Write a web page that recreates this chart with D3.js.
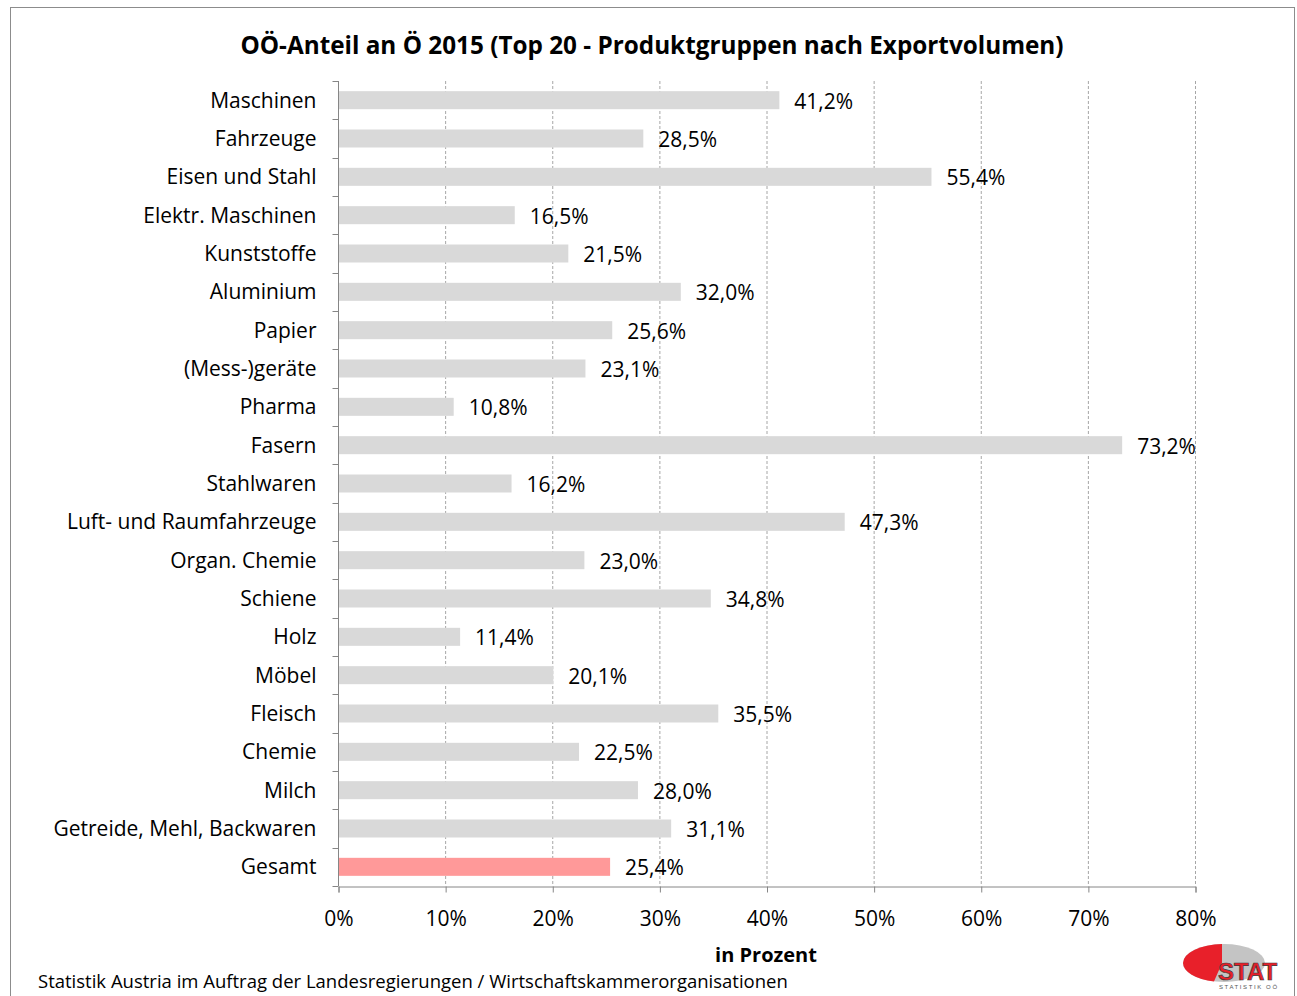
<!DOCTYPE html>
<html><head><meta charset="utf-8">
<script src="https://cdn.jsdelivr.net/npm/d3@7"></script>
<style>body{margin:0;background:#fff}svg{display:block}</style>
</head><body>
<script>
const categories = ["Maschinen","Fahrzeuge","Eisen und Stahl","Elektr. Maschinen","Kunststoffe","Aluminium","Papier","(Mess-)geräte","Pharma","Fasern","Stahlwaren","Luft- und Raumfahrzeuge","Organ. Chemie","Schiene","Holz","Möbel","Fleisch","Chemie","Milch","Getreide, Mehl, Backwaren","Gesamt"];
const values = [41.2,28.5,55.4,16.5,21.5,32.0,25.6,23.1,10.8,73.2,16.2,47.3,23.0,34.8,11.4,20.1,35.5,22.5,28.0,31.1,25.4];
const xTicks = [0,10,20,30,40,50,60,70,80];
const title = "OÖ-Anteil an Ö 2015 (Top 20 - Produktgruppen nach Exportvolumen)";
const xTitle = "in Prozent";
const source = "Statistik Austria im Auftrag der Landesregierungen / Wirtschaftskammerorganisationen";

const W = 1297, H = 996;
const font = "'Open Sans', sans-serif";
const svg = d3.select("body").append("svg").attr("width", W).attr("height", H);

svg.append("rect").attr("x",10.5).attr("y",7.5).attr("width",1284).attr("height",995)
  .attr("fill","#fff").attr("stroke","#8c8c8c").attr("stroke-width",1);

const x = d3.scaleLinear().domain([0,80]).range([338,1195]);
const y = d3.scaleBand().domain(categories).range([81,886]).paddingInner(0.53).paddingOuter(0.265);

// gridlines
svg.append("g").selectAll("line").data(xTicks.filter(d=>d>0)).join("line")
  .attr("x1",d=>x(d)+0.5).attr("x2",d=>x(d)+0.5).attr("y1",81).attr("y2",886)
  .attr("stroke","#a6a6a6").attr("stroke-dasharray","3,2").attr("stroke-width",1);

// bars
svg.append("g").selectAll("rect").data(categories).join("rect")
  .attr("x",x(0)+1).attr("y",d=>y(d))
  .attr("width",(d,i)=>x(values[i])-x(0)-1).attr("height",y.bandwidth())
  .attr("fill",d=>d==="Gesamt"?"#ff9999":"#d9d9d9");

// value labels
svg.append("g").selectAll("text").data(categories).join("text")
  .attr("x",(d,i)=>x(values[i])+15).attr("y",d=>y(d)+y.bandwidth()/2+1)
  .attr("dy","0.36em").attr("font-family",font).attr("font-size",21).attr("fill","#000")
  .text((d,i)=>values[i].toFixed(1).replace(".",",")+"%");

// y axis
const yAxis = svg.append("g").attr("transform","translate(338.5,0)");
yAxis.append("line").attr("x1",0).attr("x2",0).attr("y1",81).attr("y2",886).attr("stroke","#868686");
const bounds = d3.range(categories.length+1).map(i=>81+i*(886-81)/categories.length);
yAxis.selectAll("line.t").data(bounds).join("line").attr("class","t")
  .attr("x1",-6).attr("x2",0).attr("y1",d=>Math.round(d)+0.5).attr("y2",d=>Math.round(d)+0.5).attr("stroke","#868686");
yAxis.selectAll("text").data(categories).join("text")
  .attr("x",-22).attr("y",d=>y(d)+y.bandwidth()/2).attr("dy","0.36em")
  .attr("text-anchor","end").attr("font-family",font).attr("font-size",21).attr("fill","#000").text(d=>d);

// x axis
const xAxis = d3.axisBottom(x).tickValues(xTicks).tickSize(6).tickPadding(19).tickFormat(d=>d+"%");
const gx = svg.append("g").attr("transform","translate(0.5,886.5)").call(xAxis);
gx.select(".domain").attr("stroke","#868686");
gx.selectAll(".tick line").attr("stroke","#868686");
gx.selectAll("text").attr("font-family",font).attr("font-size",21).attr("fill","#000");

// titles
svg.append("text").attr("x",652).attr("y",54).attr("text-anchor","middle")
  .attr("font-family",font).attr("font-weight","bold").attr("font-size",24.3).text(title);
svg.append("text").attr("x",766).attr("y",962).attr("text-anchor","middle")
  .attr("font-family",font).attr("font-weight","bold").attr("font-size",20).text(xTitle);
svg.append("text").attr("x",38).attr("y",988)
  .attr("font-family",font).attr("font-size",18.5).text(source);

// logo
const lg = svg.append("g").attr("transform","translate(1224,963)");
lg.append("ellipse").attr("rx",41).attr("ry",19).attr("fill","#c4c4c4");
lg.append("path").attr("d","M-2,-19 A41,19 0 0,0 -41,0 A41,19 0 0,0 -10,18.4 L-2,0 Z").attr("fill","#e8202a");
lg.append("text").attr("x",-6).attr("y",17).attr("font-family","'Liberation Sans',sans-serif")
  .attr("font-weight","bold").attr("font-size",24).attr("fill","#e8202a").attr("stroke","#3a3a3a").attr("stroke-width",0.7).text("STAT");
lg.append("text").attr("x",-5).attr("y",26).attr("font-family","'Liberation Sans',sans-serif")
  .attr("font-size",6).attr("letter-spacing",1.6).attr("fill","#555").text("STATISTIK OÖ");
</script>
</body></html>
